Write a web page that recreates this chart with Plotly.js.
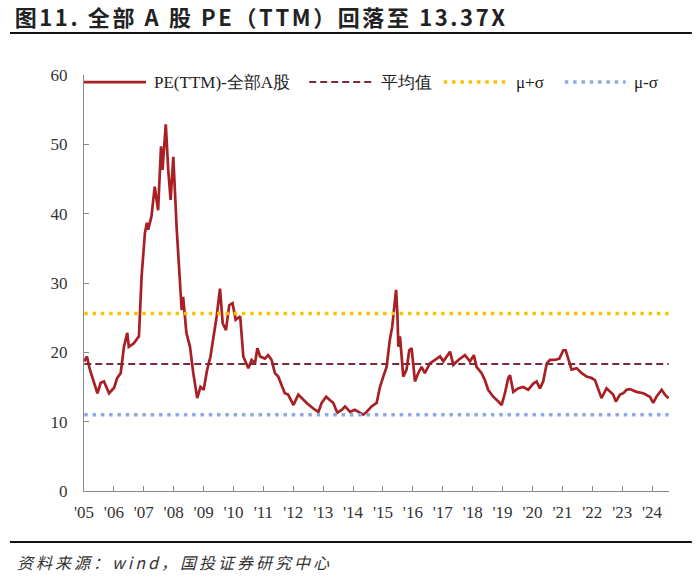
<!DOCTYPE html>
<html>
<head>
<meta charset="utf-8">
<script src="https://cdn.plot.ly/plotly-3.0.1.min.js"></script>
<style>
  body { margin: 0; background: #fff; }
  #chart { width: 700px; height: 578px; }
</style>
</head>
<body>
<div id="chart"></div>
<script>
// PE(TTM) of all A shares
var dates = [
  '2005-01-04','2005-02-06','2005-03-14','2005-05-01','2005-06-14','2005-07-24','2005-09-02','2005-11-03',
  '2006-01-04','2006-02-10','2006-03-25','2006-05-04','2006-06-14','2006-07-02','2006-09-02','2006-11-03','2006-12-06',
  '2007-01-15','2007-02-08','2007-02-24','2007-04-05','2007-05-15','2007-06-25','2007-07-31','2007-08-18','2007-09-27','2007-10-27','2007-11-25','2007-12-28',
  '2008-02-06','2008-03-17','2008-04-08','2008-04-26','2008-06-05','2008-07-19','2008-08-28','2008-10-15','2008-11-24',
  '2009-01-02','2009-02-10','2009-03-26','2009-05-01','2009-06-10','2009-07-20','2009-08-22','2009-10-01','2009-11-10','2009-12-20',
  '2010-01-28','2010-03-24','2010-05-01','2010-07-02','2010-08-11','2010-09-20','2010-10-20','2010-11-22',
  '2011-01-19','2011-02-28','2011-04-12','2011-05-22','2011-07-02','2011-08-11','2011-09-20','2011-10-30',
  '2012-01-04','2012-03-03','2012-04-12','2012-06-13','2012-09-02','2012-11-03','2012-12-13',
  '2013-02-06','2013-03-26','2013-05-05','2013-06-22','2013-08-15','2013-09-25','2013-11-25',
  '2014-01-22','2014-03-26','2014-05-05','2014-06-14','2014-08-15','2014-10-16','2014-11-25',
  '2015-01-05','2015-02-14','2015-03-26','2015-04-24','2015-06-10','2015-06-26','2015-07-08','2015-07-28','2015-09-06','2015-10-16','2015-11-18','2015-12-17',
  '2016-01-27','2016-03-07','2016-04-16','2016-05-26','2016-07-27','2016-09-27','2016-11-28',
  '2017-01-08','2017-03-30','2017-05-09','2017-07-10','2017-09-28','2017-11-29',
  '2018-01-15','2018-02-17','2018-04-20','2018-05-30','2018-07-09','2018-09-09','2018-11-10','2018-12-20',
  '2019-01-30','2019-03-11','2019-04-02','2019-05-12','2019-07-09','2019-09-09','2019-11-10',
  '2020-01-11','2020-02-20','2020-04-01','2020-05-11','2020-06-24','2020-08-03','2020-10-01','2020-11-25',
  '2021-01-12','2021-02-10','2021-03-14','2021-04-23','2021-06-24','2021-08-25','2021-10-23','2021-12-24',
  '2022-02-03','2022-03-14','2022-04-23','2022-06-24','2022-08-04','2022-09-13','2022-10-16','2022-12-06',
  '2023-01-15','2023-02-24','2023-04-05','2023-06-24','2023-09-16','2023-12-05',
  '2024-01-15','2024-02-24','2024-04-27','2024-06-06','2024-07-22'
];
var pe = [
  18.7,19.4,17.5,15.6,14.1,15.6,15.8,14.1,
  14.9,16.3,17.0,20.8,22.8,20.8,21.3,22.3,31.0,
  37.2,38.7,37.7,39.6,43.9,40.5,49.7,46.3,52.9,46.3,42.0,48.2,
  38.1,30.0,26.1,28.0,22.8,20.8,17.0,13.4,15.0,
  14.6,17.3,19.4,22.3,25.2,29.2,24.2,23.2,26.8,27.1,
  24.7,25.2,19.4,17.7,18.9,18.4,20.6,19.4,
  19.1,19.6,18.9,17.0,16.5,15.3,14.1,13.9,
  12.4,13.9,13.4,12.7,11.9,11.4,12.7,
  13.6,13.1,12.7,11.3,11.7,12.2,11.4,
  11.7,11.3,11.0,11.4,12.2,12.7,15.0,
  16.5,17.9,21.8,23.7,29.0,25.6,20.8,22.3,16.5,17.5,20.3,20.6,
  15.8,17.0,17.9,17.0,18.4,18.9,19.4,
  18.7,20.1,18.2,18.9,19.6,18.7,
  19.6,17.9,17.0,16.0,14.6,13.6,12.9,12.4,
  14.1,16.3,16.7,14.3,14.8,15.0,14.6,
  15.5,15.8,14.8,15.8,18.4,18.9,18.9,19.1,
  20.3,20.3,18.9,17.5,17.7,17.0,16.5,16.3,
  16.0,14.6,13.4,14.8,14.3,13.9,12.9,13.9,
  14.1,14.6,14.7,14.3,14.1,13.6,
  12.7,13.6,14.6,13.9,13.37
];
var peMean = 18.3;
var peStd = 7.3;

var years = [];
var yearLabels = [];
for (var y = 2005; y <= 2024; y++) {
  years.push(y + '-01-01');
  yearLabels.push("'" + String(y).slice(2));
}

var names = ['PE(TTM)-全部A股', '平均值', 'μ+σ', 'μ-σ'];
var colors = ['#a81f24', '#7a2a38', '#ffc000', '#8faadc'];

var serif = '"Liberation Serif", "Times New Roman", serif';

var first = dates[0];
var last = dates[dates.length - 1];

function flat(v) {
  return [v, v];
}

var data = [{
  x: dates, y: pe, type: 'scatter', mode: 'lines', name: names[0],
  line: {color: colors[0], width: 2.7}
}, {
  x: [first, last], y: flat(peMean), type: 'scatter', mode: 'lines', name: names[1],
  line: {color: colors[1], width: 2, dash: '7px,4px'}
}, {
  x: [first, last], y: flat(peMean + peStd), type: 'scatter', mode: 'lines', name: names[2],
  line: {color: colors[2], width: 3.5, dash: '3.5px,4.8px'}
}, {
  x: [first, last], y: flat(peMean - peStd), type: 'scatter', mode: 'lines', name: names[3],
  line: {color: colors[3], width: 3.5, dash: '3.5px,4.8px'}
}];

// hand-drawn legend, plotly's sample lines are too short
var legX = [[0, 0.106], [0.385, 0.494], [0.615, 0.725], [0.822, 0.926]];
var legDash = ['solid', '7px,4px', '3.5px,4.8px', '3.5px,4.8px'];
var legWidth = [2.7, 2, 3.5, 3.5];
var legY = 0.983;
var shapes = [];
var annotations = [];
for (var i = 0; i < names.length; i++) {
  shapes.push({
    type: 'line', xref: 'paper', yref: 'paper',
    x0: legX[i][0], x1: legX[i][1], y0: legY, y1: legY,
    line: {color: colors[i], width: legWidth[i], dash: legDash[i]}
  });
  annotations.push({
    xref: 'paper', yref: 'paper', x: legX[i][1] + 0.01, y: legY,
    xanchor: 'left', yanchor: 'middle', showarrow: false,
    text: names[i],
    font: {family: serif, size: 17, color: '#222'}
  });
}

// rules under the title and above the source
shapes.push({type: 'line', xref: 'paper', yref: 'paper', x0: -0.1265, x1: 1.039, y0: 1.101, y1: 1.101,
  line: {color: '#111', width: 2.2}});
shapes.push({type: 'line', xref: 'paper', yref: 'paper', x0: -0.1265, x1: 1.039, y0: -0.1226, y1: -0.1226,
  line: {color: '#111', width: 2.2}});

annotations.push({
  xref: 'paper', yref: 'paper', x: -0.118, y: -0.17, xanchor: 'left', yanchor: 'middle',
  showarrow: false, text: '<i><span style="letter-spacing:3px">资料来源：wind，国投证券研究中心</span></i>',
  font: {family: 'Noto Sans CJK SC', size: 16, color: '#333'}
});

var layout = {
  width: 700,
  height: 578,
  margin: {l: 84, r: 31, t: 75, b: 87},
  paper_bgcolor: '#fff',
  plot_bgcolor: '#fff',
  showlegend: false,
  title: {
    text: '<b><span style="letter-spacing:2.6px">图11. 全部 A 股 PE（TTM）回落至 13.37X</span></b>',
    xref: 'container', yref: 'container', x: 0.021, xanchor: 'left', y: 0.969, yanchor: 'middle',
    font: {family: 'Noto Sans CJK SC', size: 22, color: '#222'}
  },
  xaxis: {
    type: 'date',
    range: ['2005-01-01', '2024-07-26'],
    tickmode: 'array', tickvals: years, ticktext: yearLabels,
    ticks: 'inside', ticklen: 5, tickcolor: '#888',
    showline: true, linecolor: '#888', linewidth: 1,
    showgrid: false, zeroline: false,
    ticklabelstandoff: 6,
    tickfont: {family: serif, size: 17, color: '#333'}
  },
  yaxis: {
    range: [0, 60], dtick: 10,
    ticks: 'inside', ticklen: 5, tickcolor: '#888',
    showline: true, linecolor: '#888', linewidth: 1,
    showgrid: false, zeroline: false,
    ticklabelstandoff: 12,
    tickfont: {family: serif, size: 17, color: '#333'}
  },
  shapes: shapes,
  annotations: annotations
};

Plotly.newPlot('chart', data, layout, {displayModeBar: false, staticPlot: true});
</script>
</body>
</html>
